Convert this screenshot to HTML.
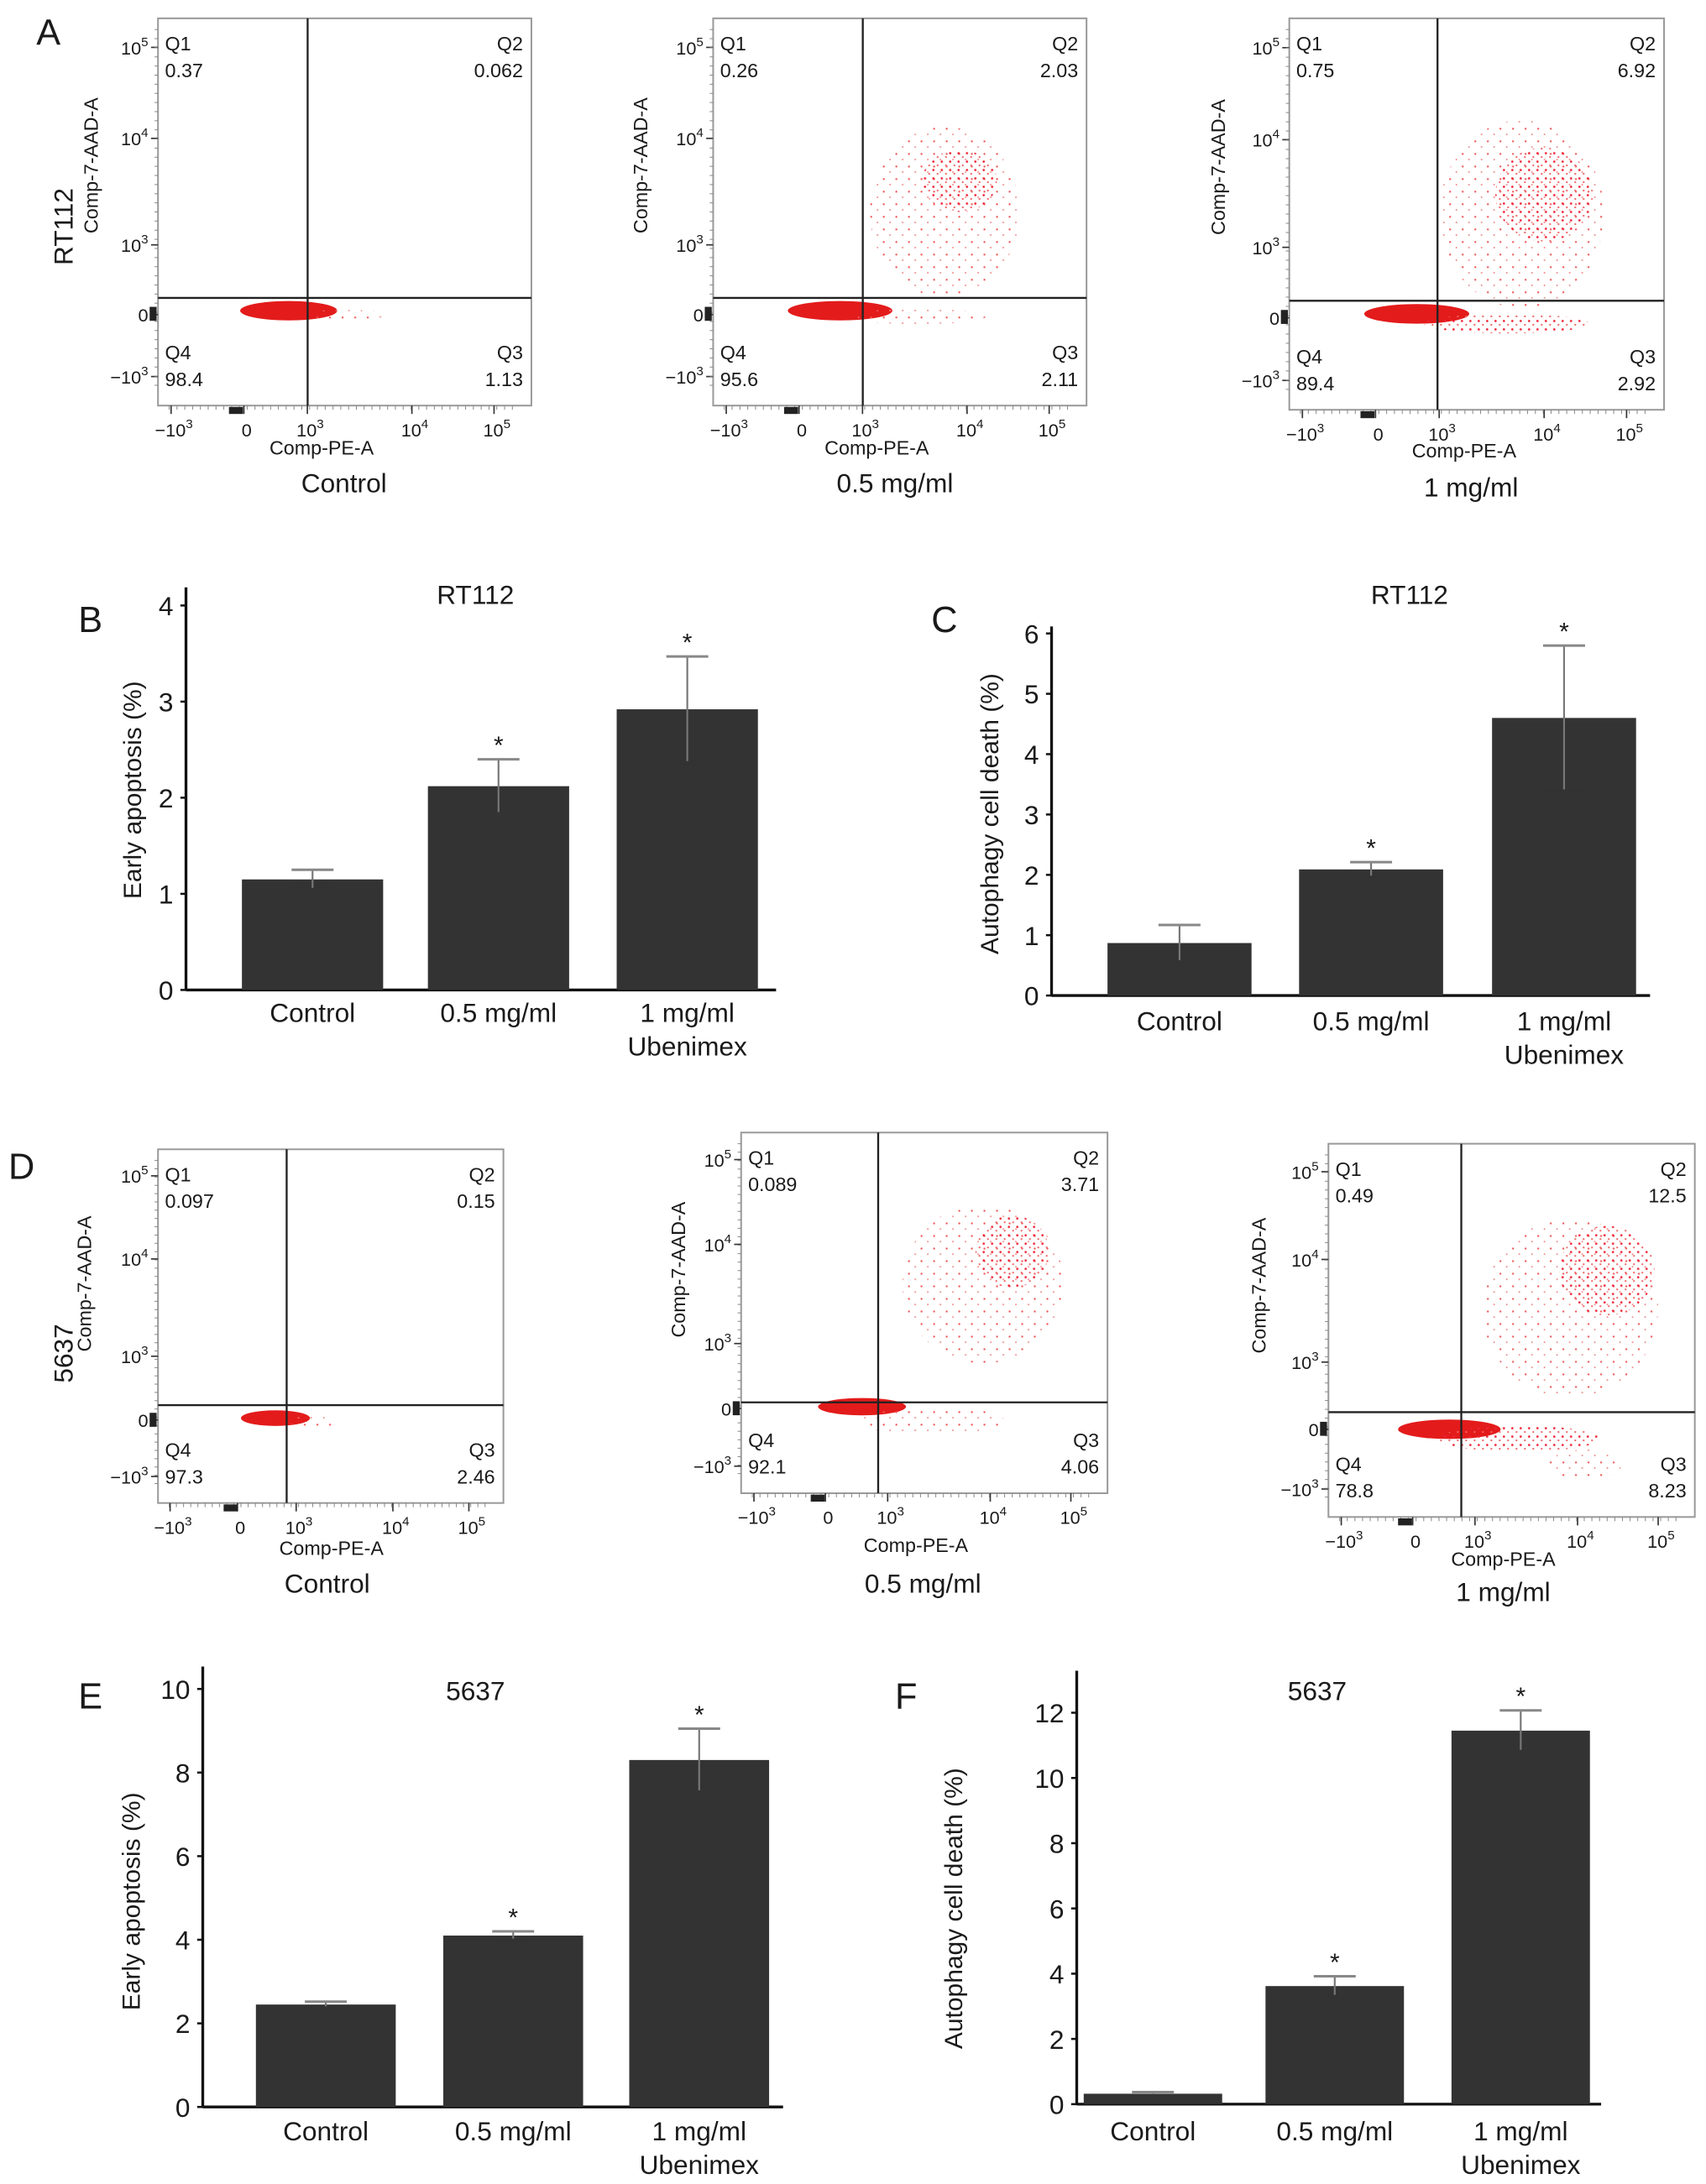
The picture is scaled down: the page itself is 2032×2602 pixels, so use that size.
<!DOCTYPE html>
<html><head><meta charset="utf-8"><style>
html,body{margin:0;padding:0;background:#fff}
svg{display:block}
text{font-family:"Liberation Sans",Arial,sans-serif;fill:#1a1a1a}
</style></head><body>
<svg id="fig" width="2032" height="2602" viewBox="0 0 1220 1562" xmlns="http://www.w3.org/2000/svg">
<defs>
<pattern id="dots" width="6" height="6" patternUnits="userSpaceOnUse"><circle cx="1.5" cy="1.5" r="0.8" fill="#e23"/><circle cx="4.5" cy="4.2" r="0.7" fill="#e66"/></pattern>
<pattern id="dotsLight" width="9" height="9" patternUnits="userSpaceOnUse"><circle cx="2" cy="2" r="0.7" fill="#e55"/><circle cx="6.5" cy="6" r="0.6" fill="#e88"/></pattern>
</defs>
<g id="root"></g>
</svg>
<script>
// ---------- Bar chart data ----------
const barCategories = ["Control", "0.5 mg/ml", "1 mg/ml"];
const valuesB = [1.15, 2.12, 2.92];
const errorsB = [0.10, 0.28, 0.55];
const valuesC = [0.87, 2.09, 4.60];
const errorsC = [0.30, 0.12, 1.20];
const valuesE = [2.45, 4.10, 8.30];
const errorsE = [0.07, 0.10, 0.75];
const valuesF = [0.32, 3.62, 11.45];
const errorsF = [0.05, 0.30, 0.62];
const ticksB = [0, 1, 2, 3, 4];
const ticksC = [0, 1, 2, 3, 4, 5, 6];
const ticksE = [0, 2, 4, 6, 8, 10];
const ticksF = [0, 2, 4, 6, 8, 10, 12];
const sigB = [false, true, true];
const sigC = [false, true, true];
const sigE = [false, true, true];
const sigF = [false, true, true];
// ---------- Flow quadrant data ----------
const flowTitles = ["Control", "0.5 mg/ml", "1 mg/ml", "Control", "0.5 mg/ml", "1 mg/ml"];
const q1Values = ["0.37", "0.26", "0.75", "0.097", "0.089", "0.49"];
const q2Values = ["0.062", "2.03", "6.92", "0.15", "3.71", "12.5"];
const q3Values = ["1.13", "2.11", "2.92", "2.46", "4.06", "8.23"];
const q4Values = ["98.4", "95.6", "89.4", "97.3", "92.1", "78.8"];
const xTickLabels = ["-10^3", "0", "10^3", "10^4", "10^5"];
const yTickLabels = ["10^5", "10^4", "10^3", "0", "-10^3"];

const NS = "http://www.w3.org/2000/svg";
const root = document.getElementById("root");
function el(tag, attrs, parent) {
  const e = document.createElementNS(NS, tag);
  for (const k in attrs) e.setAttribute(k, attrs[k]);
  (parent || root).appendChild(e);
  return e;
}
function txt(s, x, y, size, anchor, parent, extra) {
  const t = el("text", Object.assign({x: x, y: y, "font-size": size, "text-anchor": anchor || "start"}, extra || {}), parent);
  t.textContent = s;
  return t;
}
function supText(s, x, y, size, anchor, parent) {
  const t = el("text", {x: x, y: y, "font-size": size, "text-anchor": anchor}, parent);
  const m = s.match(/^(-?)10\^(\d)$/);
  if (m) {
    const a = document.createElementNS(NS, "tspan"); a.textContent = (m[1] ? "\u2212" : "") + "10"; t.appendChild(a);
    const b = document.createElementNS(NS, "tspan"); b.setAttribute("dy", -6); b.setAttribute("font-size", size * 0.7); b.textContent = m[2]; t.appendChild(b);
  } else t.textContent = s;
  return t;
}

// ---------- Flow plots ----------
const flowBoxes = [
  {x0:113,x1:380,y0:13,y1:290,vx:220,hy:213,yl:70,lx:230,ly:325,tx:246,ty:352},
  {x0:510,x1:777,y0:13,y1:290,vx:617,hy:213,yl:463,lx:627,ly:325,tx:640,ty:352},
  {x0:922,x1:1190,y0:13,y1:293,vx:1028,hy:215,yl:876,lx:1047,ly:327,tx:1052,ty:355},
  {x0:113,x1:360,y0:822,y1:1075,vx:205,hy:1005,yl:65,lx:237,ly:1112,tx:234,ty:1139},
  {x0:530,x1:792,y0:810,y1:1068,vx:628,hy:1003,yl:490,lx:655,ly:1110,tx:660,ty:1139},
  {x0:950,x1:1212,y0:818,y1:1085,vx:1045,hy:1010,yl:905,lx:1075,ly:1120,tx:1075,ty:1145}
];
// blobs: [fx, fy, rx frac, ry frac, kind] kind 0 dense,1 dots,2 light
const blobs = [
  [[0.35,0.755,0.13,0.025,0],[0.5,0.765,0.12,0.012,2]],
  [[0.34,0.755,0.14,0.025,0],[0.62,0.5,0.2,0.22,2],[0.66,0.42,0.1,0.08,1],[0.55,0.77,0.18,0.02,2]],
  [[0.34,0.755,0.14,0.025,0],[0.62,0.5,0.22,0.24,2],[0.68,0.45,0.13,0.12,1],[0.58,0.78,0.22,0.025,1]],
  [[0.34,0.76,0.1,0.022,0],[0.45,0.77,0.08,0.015,2]],
  [[0.33,0.76,0.12,0.024,0],[0.66,0.42,0.22,0.22,2],[0.74,0.33,0.1,0.1,1],[0.52,0.8,0.2,0.04,2]],
  [[0.33,0.765,0.14,0.026,0],[0.66,0.44,0.24,0.24,2],[0.76,0.34,0.13,0.12,1],[0.52,0.79,0.22,0.035,1],[0.7,0.86,0.1,0.04,2]]
];
flowBoxes.forEach((b, i) => {
  const g = el("g", {});
  
  
  const w = b.x1 - b.x0, h = b.y1 - b.y0;
  blobs[i].forEach(bl => {
    const fill = bl[4] === 0 ? "#e31b1b" : (bl[4] === 1 ? "url(#dots)" : "url(#dotsLight)");
    const e = el("ellipse", {cx: b.x0 + bl[0] * w, cy: b.y0 + bl[1] * h, rx: bl[2] * w, ry: bl[3] * h, fill: fill}, g);
    
    
  });
  const box = el("rect", {x: b.x0, y: b.y0, width: w, height: h, fill: "none", stroke: "#999", "stroke-width": 1.2}, g);
  
  
  el("line", {x1: b.vx, x2: b.vx, y1: b.y0, y2: b.y1, stroke: "#222", "stroke-width": 1.4}, g);
  el("line", {x1: b.x0, x2: b.x1, y1: b.hy, y2: b.hy, stroke: "#222", "stroke-width": 1.4}, g);
  const yFr = [0.075, 0.31, 0.585, 0.765, 0.925];
  yTickLabels.forEach((l, k) => {
    const y = b.y0 + yFr[k] * h;
    el("line", {x1: b.x0 - 5, x2: b.x0, y1: y, y2: y, stroke: "#333"}, g);
    supText(l, b.x0 - 7, y + 5, 13, "end", g);
  });
  for (let k = 0; k < 40; k++) el("line", {x1: b.x0 - 2.5, x2: b.x0, y1: b.y0 + 8 + k * (h - 16) / 40, y2: b.y0 + 8 + k * (h - 16) / 40, stroke: "#888", "stroke-width": 0.6}, g);
  const xFr = [0.035, 0.23, 0.4, 0.68, 0.9];
  xTickLabels.forEach((l, k) => {
    const x = b.x0 + xFr[k] * w;
    el("line", {x1: x, x2: x, y1: b.y1, y2: b.y1 + 6, stroke: "#333"}, g);
    supText(l, x + 2, b.y1 + 22, 13, "middle", g);
  });
  for (let k = 0; k < 45; k++) el("line", {x1: b.x0 + 8 + k * (w - 16) / 45, x2: b.x0 + 8 + k * (w - 16) / 45, y1: b.y1, y2: b.y1 + 3, stroke: "#888", "stroke-width": 0.6}, g);
  el("rect", {x: b.x0 + 0.19 * w, y: b.y1 + 1, width: 10, height: 5, fill: "#222"}, g);
  el("rect", {x: b.x0 - 6, y: b.y0 + 0.745 * h, width: 5, height: 10, fill: "#222"}, g);
  txt("Q1", b.x0 + 5, b.y0 + 23, 14, "start", g); txt(q1Values[i], b.x0 + 5, b.y0 + 42, 14, "start", g);
  txt("Q2", b.x1 - 6, b.y0 + 23, 14, "end", g); txt(q2Values[i], b.x1 - 6, b.y0 + 42, 14, "end", g);
  txt("Q4", b.x0 + 5, b.y1 - 33, 14, "start", g); txt(q4Values[i], b.x0 + 5, b.y1 - 14, 14, "start", g);
  txt("Q3", b.x1 - 6, b.y1 - 33, 14, "end", g); txt(q3Values[i], b.x1 - 6, b.y1 - 14, 14, "end", g);
  txt("Comp-PE-A", b.lx, b.ly, 14, "middle", g);
  txt(flowTitles[i], b.tx, b.ty, 19, "middle", g);
  const cy = b.y0 + 0.38 * h;
  txt("Comp-7-AAD-A", b.yl, cy, 14, "middle", g, {transform: "rotate(-90 " + b.yl + " " + cy + ")"});
});
txt("RT112", 52, 162, 19, "middle", null, {transform: "rotate(-90 52 162)"});
txt("5637", 52, 968, 19, "middle", null, {transform: "rotate(-90 52 968)"});

// ---------- Bar charts ----------
function barChart(cfg) {
  const g = el("g", {});
  
  
  const yScale = v => cfg.y0 - (v / cfg.max) * (cfg.y0 - cfg.yTop);
  el("line", {x1: cfg.ax, x2: cfg.ax, y1: cfg.axTop, y2: cfg.y0, stroke: "#111", "stroke-width": 2}, g);
  el("line", {x1: cfg.ax, x2: cfg.axEnd, y1: cfg.y0, y2: cfg.y0, stroke: "#111", "stroke-width": 2}, g);
  cfg.ticks.forEach(t => {
    const y = yScale(t);
    el("line", {x1: cfg.ax - 4, x2: cfg.ax, y1: y, y2: y, stroke: "#111", "stroke-width": 1.5}, g);
    const tl = txt(String(t), cfg.ax - 9, y + 7, 19, "end", g);
    
    
  });
  cfg.values.forEach((v, k) => {
    const x = cfg.barX[k], bw = cfg.bw, cx = x + bw / 2;
    const r = el("rect", {x: x, y: yScale(v), width: bw, height: cfg.y0 - yScale(v), fill: "#333"}, g);
    
    
    const top = yScale(v + cfg.errors[k]), bot = yScale(v - cfg.errors[k]);
    el("line", {x1: cx, x2: cx, y1: top, y2: bot, stroke: "#777", "stroke-width": 1.3}, g);
    el("line", {x1: cx - 15, x2: cx + 15, y1: top, y2: top, stroke: "#888", "stroke-width": 1.8}, g);
    el("line", {x1: cx - 15, x2: cx + 15, y1: bot, y2: bot, stroke: "#333", "stroke-width": 1.5}, g);
    if (cfg.sig[k]) txt("*", cx, top - 4, 18, "middle", g);
    txt(barCategories[k], cx, cfg.labelY, 19, "middle", g);
  });
  txt("Ubenimex", cfg.barX[2] + cfg.bw / 2, cfg.labelY + 24, 19, "middle", g);
  txt(cfg.title, cfg.titleX, cfg.titleY, 19, "middle", g);
  txt(cfg.letter, cfg.letterX, cfg.letterY, 26, "start", g);
  txt(cfg.ytitle, cfg.ytx, cfg.yty, 18, "middle", g, {transform: "rotate(-90 " + cfg.ytx + " " + cfg.yty + ")"});
}
barChart({name:"bar-chart-b", values:valuesB, errors:errorsB, ticks:ticksB, sig:sigB, max:4, ax:133, axTop:420, y0:708, yTop:433, axEnd:555, barX:[173,306,441], bw:101, labelY:731, title:"RT112", titleX:340, titleY:432, letter:"B", letterX:56, letterY:452, ytitle:"Early apoptosis (%)", ytx:101, yty:565});
barChart({name:"bar-chart-c", values:valuesC, errors:errorsC, ticks:ticksC, sig:sigC, max:6, ax:752, axTop:448, y0:712, yTop:453, axEnd:1180, barX:[792,929,1067], bw:103, labelY:737, title:"RT112", titleX:1008, titleY:432, letter:"C", letterX:666, letterY:452, ytitle:"Autophagy cell death (%)", ytx:714, yty:582});
barChart({name:"bar-chart-e", values:valuesE, errors:errorsE, ticks:ticksE, sig:sigE, max:10, ax:145, axTop:1192, y0:1507, yTop:1208, axEnd:560, barX:[183,317,450], bw:100, labelY:1531, title:"5637", titleX:340, titleY:1216, letter:"E", letterX:56, letterY:1222, ytitle:"Early apoptosis (%)", ytx:100, yty:1360});
barChart({name:"bar-chart-f", values:valuesF, errors:errorsF, ticks:ticksF, sig:sigF, max:12, ax:770, axTop:1195, y0:1505, yTop:1225, axEnd:1145, barX:[775,905,1038], bw:99, labelY:1531, title:"5637", titleX:942, titleY:1216, letter:"F", letterX:640, letterY:1222, ytitle:"Autophagy cell death (%)", ytx:688, yty:1365});
txt("A", 26, 32, 26, "start");
txt("D", 6, 843, 26, "start");
</script>
</body></html>
